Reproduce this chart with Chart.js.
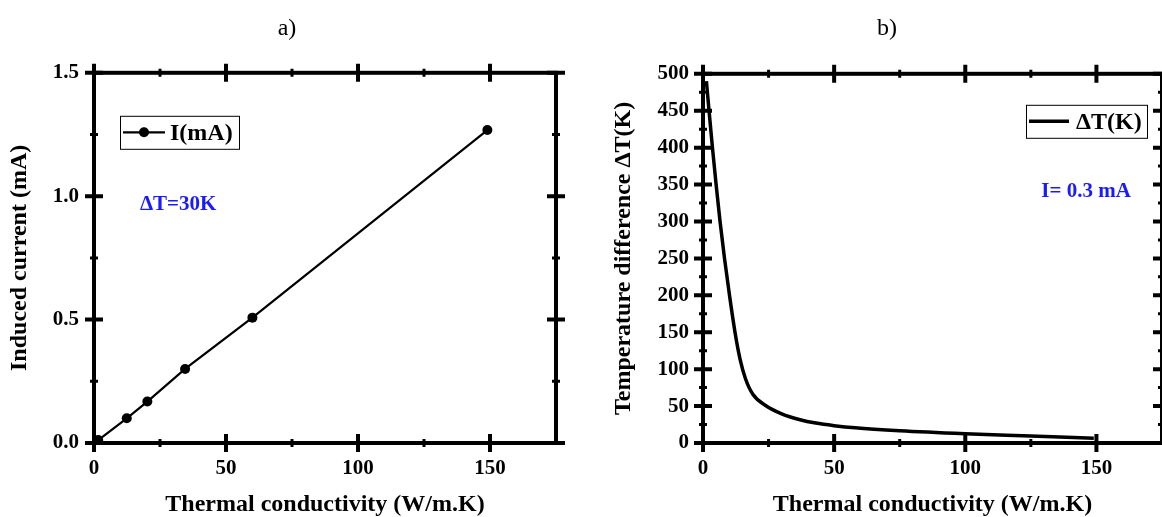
<!DOCTYPE html>
<html>
<head>
<meta charset="utf-8">
<script src="https://cdn.jsdelivr.net/npm/chart.js@4.4.1/dist/chart.umd.min.js"></script>
<style>
  html, body { margin: 0; padding: 0; background: #fff; overflow: hidden; }
  #wrap { position: relative; width: 1162px; height: 517px; }
  .panel { position: absolute; top: 0; width: 581px; height: 517px; }
</style>
</head>
<body>
<div id="wrap">
  <div class="panel" style="left:0"><canvas id="chartA" width="581" height="517"></canvas></div>
  <div class="panel" style="left:581px"><canvas id="chartB" width="581" height="517"></canvas></div>
</div>
<script>
const SERIF = '"Liberation Serif", "Times New Roman", serif';

// a) induced current vs thermal conductivity (dT = 30 K)
const condA = [1.6, 12.4, 20.2, 34.5, 60.0, 149.0];
const currentA = [0.012, 0.100, 0.168, 0.300, 0.508, 1.268];

// b) temperature difference vs thermal conductivity (I = 0.3 mA)
const condB = [1.3, 2.3, 3.6, 5.0, 6.5, 8.2, 10.1, 12.2, 14.1, 16.2, 19.0, 24.0, 30.0, 37.0, 43.0, 50.0, 58.0, 75.0, 100.0, 125.0, 149.0];
const deltaT = [490, 450, 400, 350, 300, 250, 200, 150, 114, 87, 66, 50.5, 39.5, 31.5, 27, 23.5, 20.5, 16.5, 12.5, 9.5, 6.5];

// axis ticks
const xMajor = [0, 50, 100, 150];
const xMinor = [25, 75, 125];
const yMajorA = [0, 0.5, 1.0, 1.5];
const yMinorA = [0.25, 0.75, 1.25];
const yMajorB = [0, 50, 100, 150, 200, 250, 300, 350, 400, 450, 500];
const yMinorB = [25, 75, 125, 175, 225, 275, 325, 375, 425, 475];

const tickFont = { family: SERIF, size: 21, weight: 'bold' };
const titleFont = { family: SERIF, size: 24, weight: 'bold', lineHeight: 1 };

// frame with in/out ticks on all four sides
const frameTicks = {
  id: 'frameTicks',
  beforeDatasetsDraw(chart, args, opts) {
    const { ctx, chartArea: a, scales: { x, y } } = chart;
    ctx.save();
    ctx.strokeStyle = '#000';
    const vt = (vals, len, w) => {
      ctx.lineWidth = w;
      vals.forEach(v => {
        const px = x.getPixelForValue(v);
        ctx.beginPath();
        ctx.moveTo(px, a.bottom - len); ctx.lineTo(px, a.bottom + len);
        ctx.moveTo(px, a.top - len); ctx.lineTo(px, a.top + len);
        ctx.stroke();
      });
    };
    const ht = (vals, len, w) => {
      ctx.lineWidth = w;
      vals.forEach(v => {
        const py = y.getPixelForValue(v);
        ctx.beginPath();
        ctx.moveTo(a.left - len, py); ctx.lineTo(a.left + len, py);
        ctx.moveTo(a.right - len, py); ctx.lineTo(a.right + len, py);
        ctx.stroke();
      });
    };
    vt(opts.xMajor, 9, 4);
    vt(opts.xMinor, 4, 3);
    ht(opts.yMajor, 9, 4);
    ht(opts.yMinor, 4, 3);
    ctx.lineWidth = 4;
    ctx.strokeRect(a.left, a.top, a.right - a.left, a.bottom - a.top);
    ctx.restore();
  }
};

// boxed legend + blue note inside the plot
const boxLegend = {
  id: 'boxLegend',
  afterDraw(chart, args, opts) {
    const { ctx, chartArea: a, scales: { x, y } } = chart;
    const ds = chart.data.datasets[0];
    ctx.save();
    const left = opts.fromRight ? a.right - opts.dx - opts.w : a.left + opts.dx;
    const top = a.top + opts.dy;
    ctx.strokeStyle = '#000';
    ctx.lineWidth = 1;
    ctx.strokeRect(left + 0.5, top + 0.5, opts.w, opts.h);
    const cy = top + opts.h / 2;
    ctx.lineWidth = ds.borderWidth;
    ctx.beginPath();
    ctx.moveTo(left + 3, cy);
    ctx.lineTo(left + 3 + opts.lineLen, cy);
    ctx.stroke();
    if (ds.pointRadius > 0) {
      ctx.fillStyle = '#000';
      ctx.beginPath();
      ctx.arc(left + 3 + opts.lineLen / 2, cy, ds.pointRadius, 0, Math.PI * 2);
      ctx.fill();
    }
    ctx.fillStyle = '#000';
    ctx.font = 'bold 24px ' + SERIF;
    ctx.textBaseline = 'middle';
    ctx.fillText(ds.label, left + opts.textX, cy + 1);

    ctx.fillStyle = '#1a1aff';
    ctx.font = 'bold 21px ' + SERIF;
    ctx.fillText(opts.note, x.getPixelForValue(opts.noteX), y.getPixelForValue(opts.noteY));
    ctx.restore();
  }
};

function fixedTicks(vals) {
  return scale => { scale.ticks = vals.map(v => ({ value: v })); };
}

new Chart(document.getElementById('chartA'), {
  type: 'line',
  data: {
    datasets: [{
      label: 'I(mA)',
      data: condA.map((k, i) => ({ x: k, y: currentA[i] })),
      borderColor: '#000',
      backgroundColor: '#000',
      borderWidth: 2.2,
      pointRadius: 5,
      pointBackgroundColor: '#000',
      pointBorderWidth: 0
    }]
  },
  options: {
    responsive: false,
    animation: false,
    layout: { padding: { left: 18, right: 25, top: 0, bottom: 0 } },
    scales: {
      x: {
        type: 'linear', min: 0, max: 175,
        afterBuildTicks: fixedTicks(xMajor),
        afterFit: s => { s.height = 74; },
        grid: { display: false, drawTicks: false },
        border: { display: false },
        ticks: { font: tickFont, color: '#000', padding: 13 },
        title: { display: true, text: 'Thermal conductivity (W/m.K)', font: titleFont, color: '#000', padding: { top: 0, bottom: 0 } }
      },
      y: {
        type: 'linear', min: 0, max: 1.5,
        afterBuildTicks: fixedTicks(yMajorA),
        afterFit: s => { s.width = 76; },
        grid: { display: false, drawTicks: false },
        border: { display: false },
        ticks: { font: tickFont, color: '#000', padding: 15, callback: v => v.toFixed(1) },
        title: { display: true, text: 'Induced current (mA)', font: titleFont, color: '#000', padding: { top: -10, bottom: 0 } }
      }
    },
    plugins: {
      legend: { display: false },
      tooltip: { enabled: false },
      title: { display: true, text: 'a)', color: '#000', font: { family: SERIF, size: 24, weight: 'normal' }, padding: { top: 14, bottom: 30 } },
      frameTicks: { xMajor: xMajor, xMinor: xMinor, yMajor: yMajorA, yMinor: yMinorA },
      boxLegend: { fromRight: false, dx: 26, dy: 43, w: 119, h: 33, lineLen: 42, textX: 50, note: 'ΔT=30K', noteX: 17.4, noteY: 0.968 }
    }
  },
  plugins: [frameTicks, boxLegend]
});

new Chart(document.getElementById('chartB'), {
  type: 'line',
  data: {
    datasets: [{
      label: 'ΔT(K)',
      data: condB.map((k, i) => ({ x: k, y: deltaT[i] })),
      borderColor: '#000',
      borderWidth: 3.5,
      pointRadius: 0,
      cubicInterpolationMode: 'monotone'
    }]
  },
  options: {
    responsive: false,
    animation: false,
    layout: { padding: { left: 31, right: 0, top: 0, bottom: 0 } },
    scales: {
      x: {
        type: 'linear', min: 0, max: 175,
        afterBuildTicks: fixedTicks(xMajor),
        afterFit: s => { s.height = 74; },
        grid: { display: false, drawTicks: false },
        border: { display: false },
        ticks: { font: tickFont, color: '#000', padding: 13 },
        title: { display: true, text: 'Thermal conductivity (W/m.K)', font: titleFont, color: '#000', padding: { top: 0, bottom: 0 } }
      },
      y: {
        type: 'linear', min: 0, max: 500,
        afterBuildTicks: fixedTicks(yMajorB),
        afterFit: s => { s.width = 91; },
        grid: { display: false, drawTicks: false },
        border: { display: false },
        ticks: { font: tickFont, color: '#000', padding: 14 },
        title: { display: true, text: 'Temperature difference ΔT(K)', font: titleFont, color: '#000', padding: { top: 0, bottom: 0 } }
      }
    },
    plugins: {
      legend: { display: false },
      tooltip: { enabled: false },
      title: { display: true, text: 'b)', color: '#000', font: { family: SERIF, size: 24, weight: 'normal' }, padding: { top: 14, bottom: 31 } },
      frameTicks: { xMajor: xMajor, xMinor: xMinor, yMajor: yMajorB, yMinor: yMinorB },
      boxLegend: { fromRight: true, dx: 15, dy: 31, w: 121, h: 33, lineLen: 40, textX: 50, note: 'I= 0.3 mA', noteX: 129, noteY: 341 }
    }
  },
  plugins: [frameTicks, boxLegend]
});
</script>
</body>
</html>
